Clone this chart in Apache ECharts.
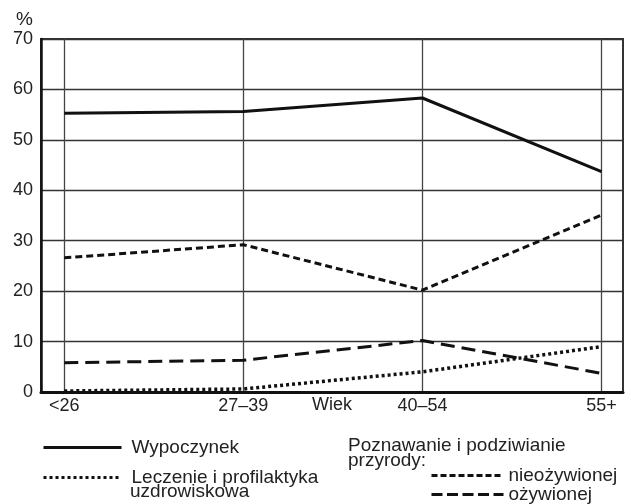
<!DOCTYPE html>
<html>
<head>
<meta charset="utf-8">
<script src="https://cdn.jsdelivr.net/npm/echarts@6/dist/echarts.min.js"></script>
<style>
html, body { margin: 0; padding: 0; background: #fff; }
#chart { width: 631px; height: 504px; }
</style>
</head>
<body>
<div id="chart"></div>
<script>
// grupy wieku (pozycje 0..3 na osi X)
const grupyWieku = ['<26', '27–39', '40–54', '55+']
const wypoczynek = [55.3, 55.6, 58.3, 43.7]
const leczenie = [0.2, 0.6, 4.0, 9.0]
const nieozywionej = [26.6, 29.2, 20.2, 35.1]
const ozywionej = [5.8, 6.3, 10.2, 3.7]

const czcionka = '"Liberation Sans", Arial, sans-serif'
const kolor = '#111'

let myChart = echarts.init(document.getElementById('chart'), null, {
    renderer: 'canvas'
})

function punkty(wartosci) {
    return wartosci.map((v, i) => [i, v])
}

function linia(nazwa, dane, typ, grubosc) {
    return {
        name: nazwa,
        type: 'line',
        data: punkty(dane),
        symbol: 'none',
        silent: true,
        lineStyle: { color: kolor, width: grubosc || 3, type: typ, cap: 'butt' },
        itemStyle: { color: kolor }
    }
}

// jedna legenda = jedna pozycja
function legenda(nazwa, left, top, szer, typ, odstep) {
    return {
        data: [nazwa],
        left: left,
        top: top,
        itemWidth: szer,
        itemHeight: 14,
        selectedMode: false,
        itemStyle: { opacity: 0 },
        lineStyle: { width: 3, type: typ, color: kolor },
        formatter: n => n.replace(' uzdrowiskowa', ''),
        textStyle: { fontSize: 19, lineHeight: 19, color: '#222', padding: [0, 0, 0, odstep], fontFamily: czcionka }
    }
}

function napis(tekst, x, y) {
    return {
        type: 'text',
        silent: true,
        style: { text: tekst, x: x, y: y, verticalAlign: 'middle', font: '19px ' + czcionka, fill: '#222' }
    }
}

const pozycjeX = grupyWieku.map((g, i) => i)

myChart.setOption({
    animation: false,
    textStyle: { fontFamily: czcionka, color: '#222' },
    grid: {
        left: 41,
        right: 8,
        top: 39,
        bottom: 112,
        show: true,
        borderColor: '#333',
        borderWidth: 2
    },
    xAxis: {
        type: 'value',
        min: -0.13,
        max: 3.12,
        name: 'Wiek',
        nameLocation: 'middle',
        nameGap: 4,
        nameMoveOverlap: false,
        nameTextStyle: { fontSize: 18, color: '#222', verticalAlign: 'top', fontFamily: czcionka },
        axisLine: { show: true, onZero: false, lineStyle: { color: '#111', width: 3 } },
        axisTick: { show: false, customValues: pozycjeX },
        axisLabel: {
            customValues: pozycjeX,
            formatter: v => grupyWieku[Math.round(v)],
            fontSize: 18,
            color: '#222',
            margin: 5,
            fontFamily: czcionka
        },
        splitLine: { show: true, lineStyle: { color: '#444', width: 1.3 } }
    },
    yAxis: {
        type: 'value',
        min: 0,
        max: 70,
        interval: 10,
        axisLine: { show: true, onZero: false, lineStyle: { color: '#111', width: 2.5 } },
        axisTick: { show: false },
        axisLabel: { fontSize: 18, color: '#222', margin: 8, fontFamily: czcionka },
        splitLine: { show: true, lineStyle: { color: '#333', width: 1.3 } }
    },
    legend: [
        legenda('Wypoczynek', 37, 433, 78, 'solid', 5),
        legenda('Leczenie i profilaktyka uzdrowiskowa', 37, 463, 78, [3, 3], 5),
        legenda('nieożywionej', 425, 461, 72, [6, 3], 0),
        legenda('ożywionej', 425, 480, 72, [11, 4.5], 0)
    ],
    graphic: [
        napis('%', 16, 20),
        napis('uzdrowiskowa', 130, 492),
        napis('Poznawanie i podziwianie', 348, 446),
        napis('przyrody:', 348, 461)
    ],
    series: [
        linia('Wypoczynek', wypoczynek, 'solid', 3),
        linia('Leczenie i profilaktyka uzdrowiskowa', leczenie, [3, 3], 3.5),
        linia('nieożywionej', nieozywionej, [7, 4], 3),
        linia('ożywionej', ozywionej, [14, 7], 3)
    ]
})
</script>
</body>
</html>
